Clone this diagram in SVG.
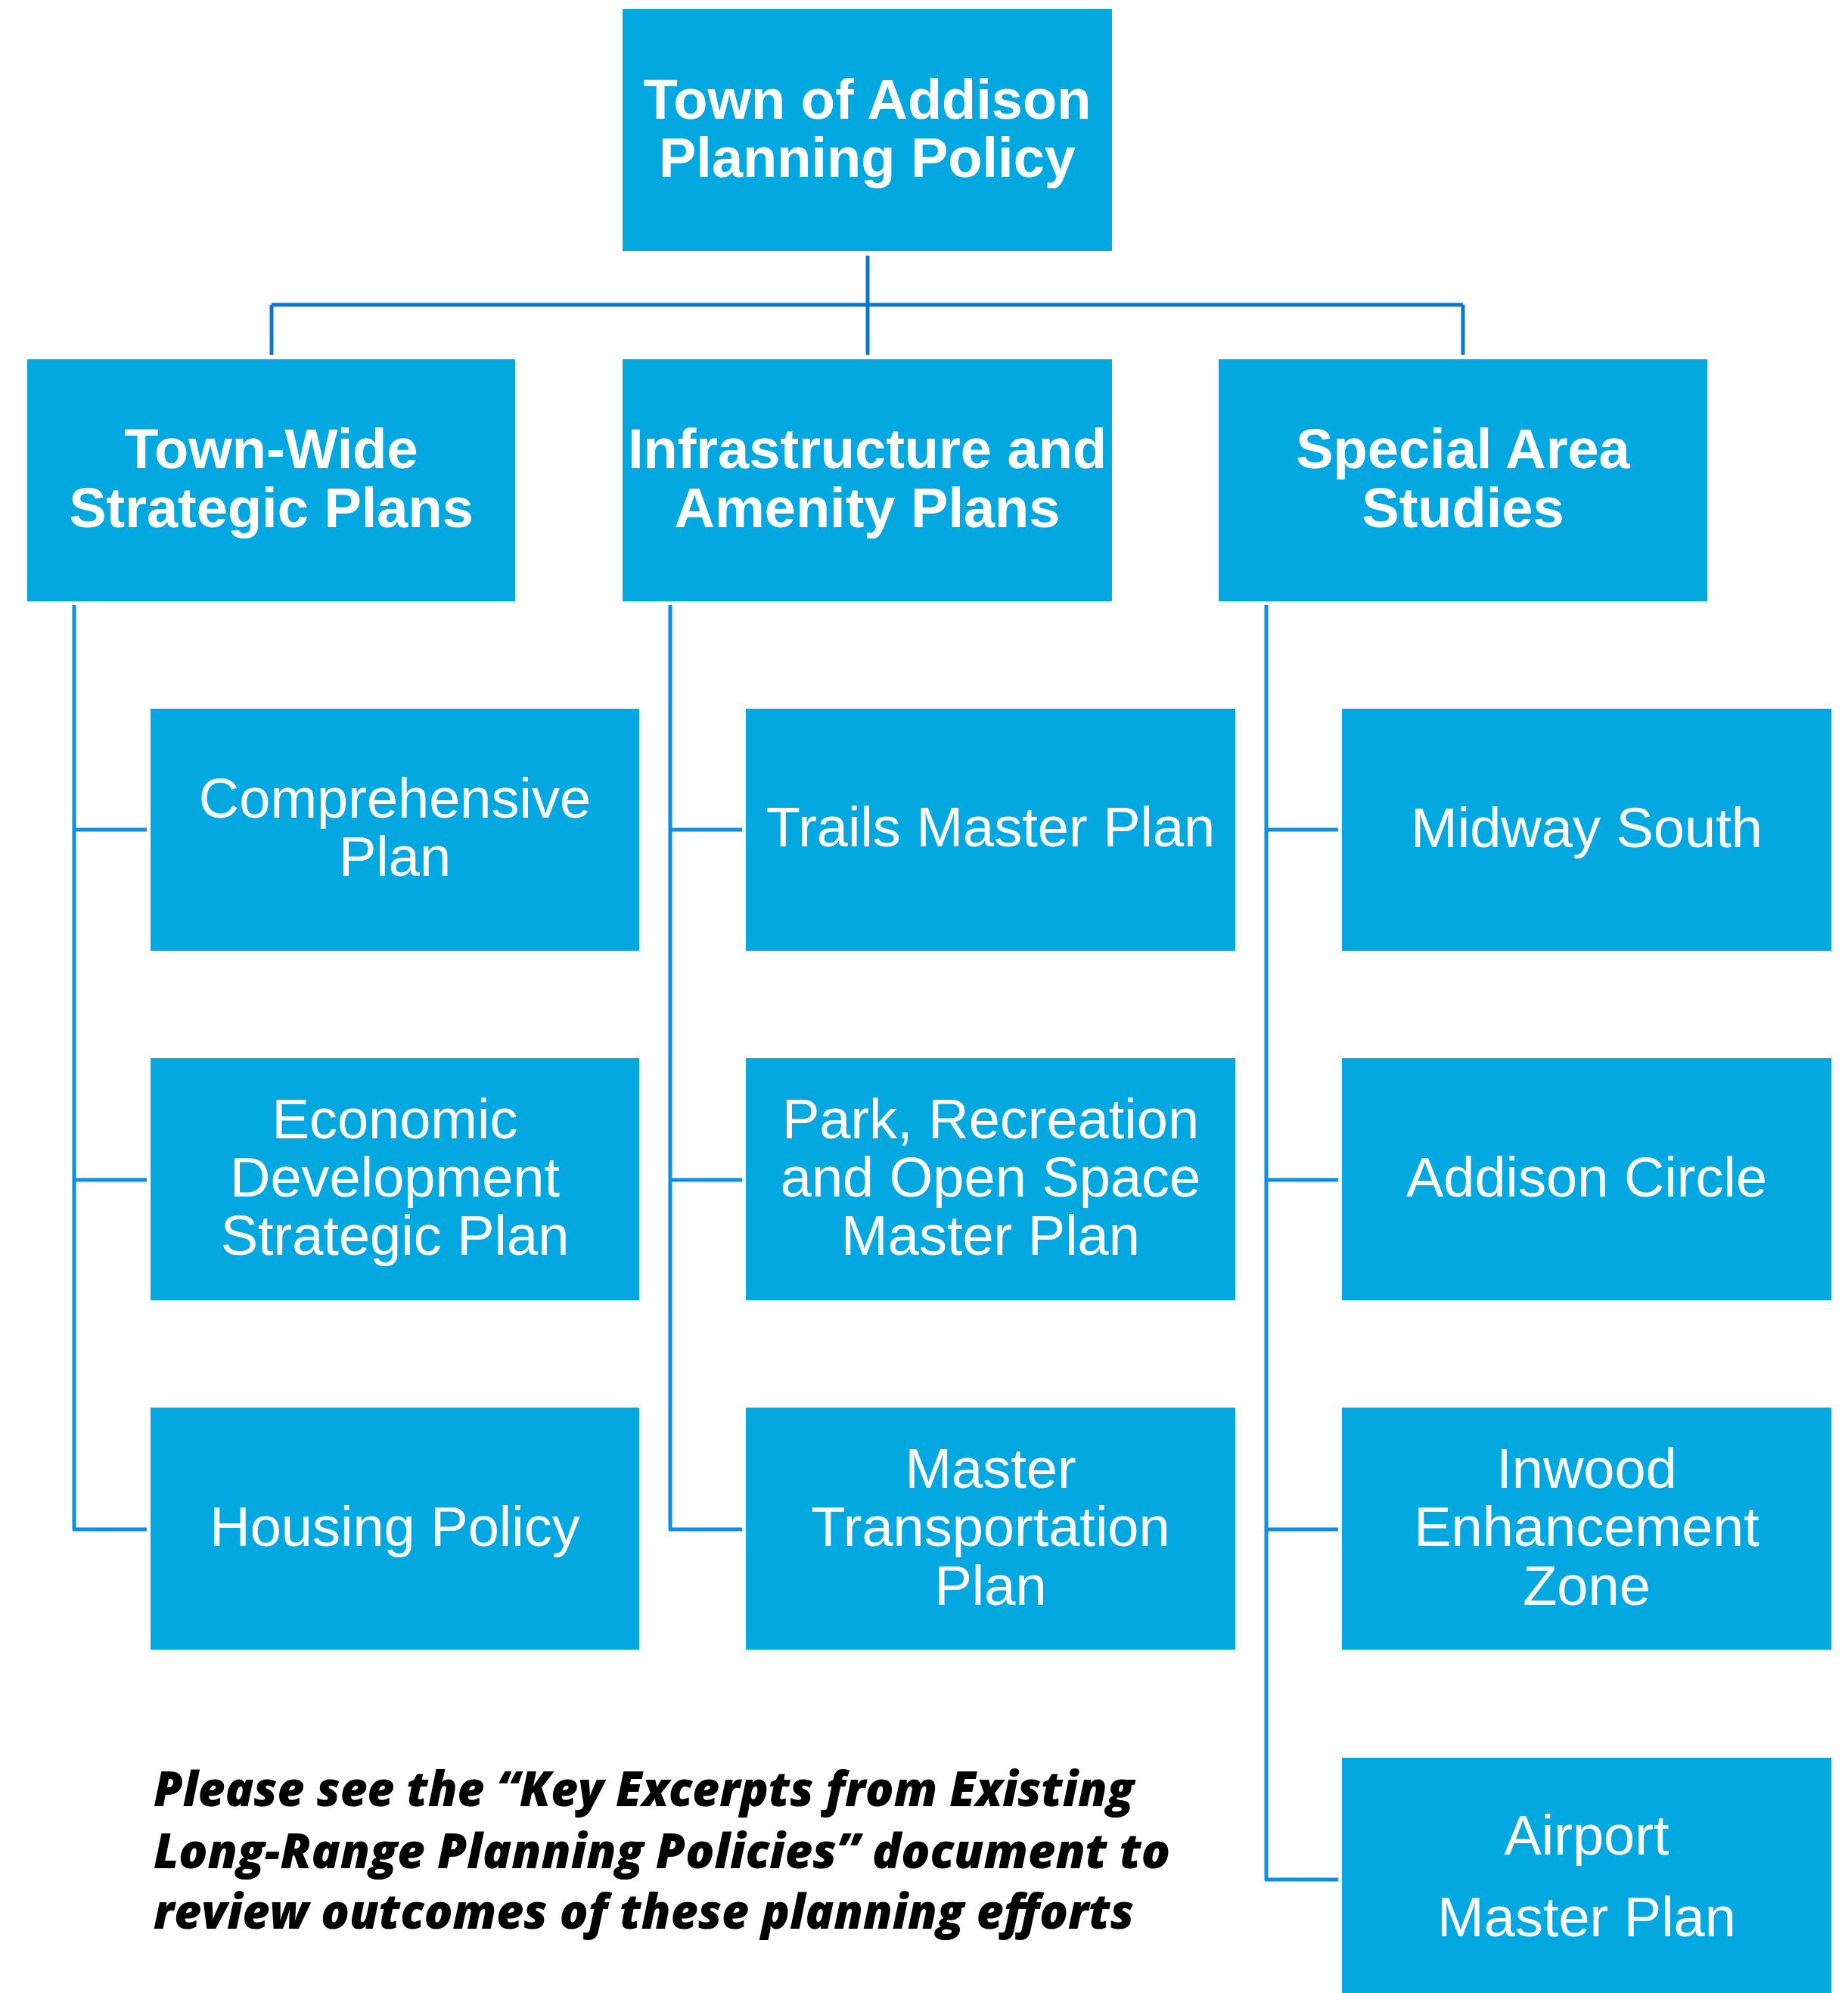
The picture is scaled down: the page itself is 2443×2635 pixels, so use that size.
<svg xmlns="http://www.w3.org/2000/svg" width="2443" height="2635" viewBox="0 0 2443 2635">
  <style>
    .box { fill: #03A8E0; }
    .head { font-family: "Liberation Sans", Arial, sans-serif; font-weight: bold; font-size: 74px; fill: #FFFFFF; text-anchor: middle; }
    .item { font-family: "Liberation Sans", Arial, sans-serif; font-size: 74px; fill: #FFFFFF; text-anchor: middle; }
    .trunk { fill: none; stroke: #0A79C9; stroke-width: 5; }
    .branch { fill: none; stroke: #0E8FE6; stroke-width: 5; stroke-linejoin: round; }
    .note { font-family: "Open Sans", "Noto Sans", sans-serif; font-weight: 800; font-style: italic; font-size: 64px; fill: #000000; }
  </style>

  <rect width="2443" height="2635" fill="#FFFFFF"/>

  <!-- connectors -->
  <g id="connectors">
    <path class="trunk" d="M1147,338 V469"/>
    <path class="trunk" d="M359,403 H1934"/>
    <path class="trunk" d="M359,403 V469"/>
    <path class="trunk" d="M1934,403 V469"/>

    <!-- Town-Wide Strategic Plans branch -->
    <path class="branch" d="M98,800 V2022 H194"/>
    <path class="branch" d="M98,1097 H194"/>
    <path class="branch" d="M98,1560 H194"/>

    <!-- Infrastructure and Amenity Plans branch -->
    <path class="branch" d="M886,800 V2022 H981"/>
    <path class="branch" d="M886,1097 H981"/>
    <path class="branch" d="M886,1560 H981"/>

    <!-- Special Area Studies branch -->
    <path class="branch" d="M1674,800 V2485 H1769"/>
    <path class="branch" d="M1674,1097 H1769"/>
    <path class="branch" d="M1674,1560 H1769"/>
    <path class="branch" d="M1674,2022 H1769"/>
  </g>

  <!-- root -->
  <g id="node-policy">
    <rect class="box" x="823" y="12" width="647" height="320"/>
    <text class="head" x="1146.5" y="157">Town of Addison</text>
    <text class="head" x="1146.5" y="234">Planning Policy</text>
  </g>

  <!-- categories -->
  <g id="node-townwide">
    <rect class="box" x="36" y="475" width="645" height="320"/>
    <text class="head" x="358.5" y="619">Town-Wide</text>
    <text class="head" x="358.5" y="697">Strategic Plans</text>
  </g>
  <g id="node-infrastructure">
    <rect class="box" x="823" y="475" width="647" height="320"/>
    <text class="head" x="1146.5" y="619">Infrastructure and</text>
    <text class="head" x="1146.5" y="697">Amenity Plans</text>
  </g>
  <g id="node-special">
    <rect class="box" x="1611" y="475" width="646" height="320"/>
    <text class="head" x="1934" y="619">Special Area</text>
    <text class="head" x="1934" y="697">Studies</text>
  </g>

  <!-- Town-Wide Strategic Plans items -->
  <g id="node-comprehensive">
    <rect class="box" x="199" y="937" width="646" height="320"/>
    <text class="item" x="522" y="1081">Comprehensive</text>
    <text class="item" x="522" y="1158">Plan</text>
  </g>
  <g id="node-economic">
    <rect class="box" x="199" y="1399" width="646" height="320"/>
    <text class="item" x="522" y="1505">Economic</text>
    <text class="item" x="522" y="1582">Development</text>
    <text class="item" x="522" y="1659">Strategic Plan</text>
  </g>
  <g id="node-housing">
    <rect class="box" x="199" y="1861" width="646" height="320"/>
    <text class="item" x="522" y="2044">Housing Policy</text>
  </g>

  <!-- Infrastructure and Amenity Plans items -->
  <g id="node-trails">
    <rect class="box" x="986" y="937" width="647" height="320"/>
    <text class="item" x="1309.5" y="1119">Trails Master Plan</text>
  </g>
  <g id="node-parks">
    <rect class="box" x="986" y="1399" width="647" height="320"/>
    <text class="item" x="1309.5" y="1505">Park, Recreation</text>
    <text class="item" x="1309.5" y="1582">and Open Space</text>
    <text class="item" x="1309.5" y="1659">Master Plan</text>
  </g>
  <g id="node-transportation">
    <rect class="box" x="986" y="1861" width="647" height="320"/>
    <text class="item" x="1309.5" y="1967">Master</text>
    <text class="item" x="1309.5" y="2044">Transportation</text>
    <text class="item" x="1309.5" y="2122">Plan</text>
  </g>

  <!-- Special Area Studies items -->
  <g id="node-midway">
    <rect class="box" x="1774" y="937" width="647" height="320"/>
    <text class="item" x="2097.5" y="1120">Midway South</text>
  </g>
  <g id="node-addison-circle">
    <rect class="box" x="1774" y="1399" width="647" height="320"/>
    <text class="item" x="2097.5" y="1582">Addison Circle</text>
  </g>
  <g id="node-inwood">
    <rect class="box" x="1774" y="1861" width="647" height="320"/>
    <text class="item" x="2097.5" y="1967">Inwood</text>
    <text class="item" x="2097.5" y="2044">Enhancement</text>
    <text class="item" x="2097.5" y="2122">Zone</text>
  </g>
  <g id="node-airport">
    <rect class="box" x="1774" y="2324" width="647" height="320"/>
    <text class="item" x="2097.5" y="2452">Airport</text>
    <text class="item" x="2097.5" y="2560">Master Plan</text>
  </g>

  <!-- footnote -->
  <g id="footnote">
    <text class="note" x="203" y="2388" textLength="1296" lengthAdjust="spacingAndGlyphs">Please see the “Key Excerpts from Existing</text>
    <text class="note" x="203" y="2470" textLength="1344" lengthAdjust="spacingAndGlyphs">Long-Range Planning Policies” document to</text>
    <text class="note" x="203" y="2550" textLength="1296" lengthAdjust="spacingAndGlyphs">review outcomes of these planning efforts</text>
  </g>
</svg>
